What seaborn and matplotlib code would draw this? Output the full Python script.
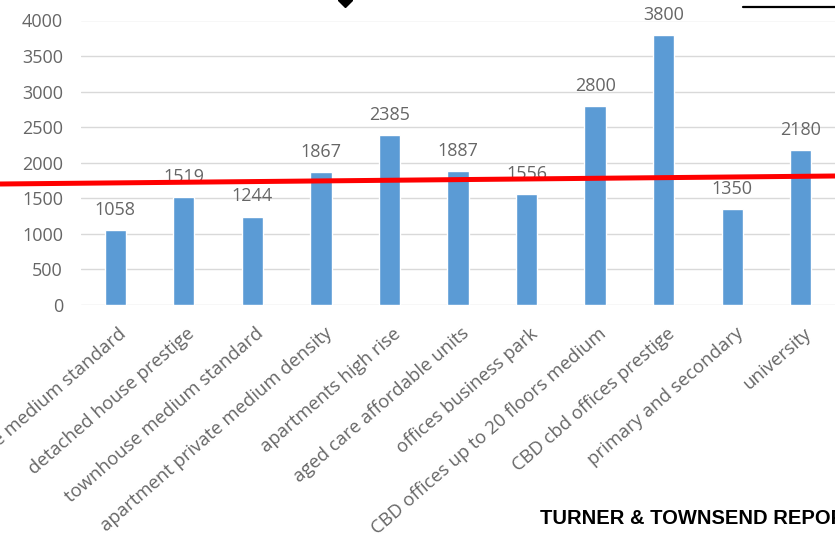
import matplotlib
matplotlib.use("Agg")
import matplotlib.pyplot as plt
from matplotlib.lines import Line2D
import matplotlib.transforms as mtransforms
import seaborn as sns
import pandas as pd

categories = [
    "detached house medium standard",
    "detached house prestige",
    "townhouse medium standard",
    "apartment private medium density",
    "apartments high rise",
    "aged care affordable units",
    "offices business park",
    "CBD offices up to 20 floors medium",
    "CBD cbd offices prestige",
    "primary and secondary",
    "university",
]
values = [1058, 1519, 1244, 1867, 2385, 1887, 1556, 2800, 3800, 1350, 2180]
yticks = [0, 500, 1000, 1500, 2000, 2500, 3000, 3500, 4000]
source_text = "TURNER & TOWNSEND REPORT"

W, H = 835, 540
sns.set_theme(style="white")
plt.rcParams["font.family"] = ["Open Sans", "DejaVu Sans"]

fig = plt.figure(figsize=(W / 100, H / 100), dpi=100)
ax = fig.add_axes([81 / W, 1 - 305 / H, 1 - 81 / W, 284.5 / H])

df = pd.DataFrame({"category": categories, "value": values})
sns.barplot(data=df, x="category", y="value", color="#5B9BD5", saturation=1,
            width=0.31, ax=ax)

ax.set_xlim(-0.5, len(categories) - 0.5)
ax.set_ylim(0, 4000)
ax.set_yticks(yticks)
ax.set_yticklabels([str(t) for t in yticks])
ax.set_xlabel("")
ax.set_ylabel("")
ax.yaxis.grid(True, color="#d9d9d9", lw=1)
ax.set_axisbelow(True)
sns.despine(ax=ax, left=True, bottom=True, top=True, right=True)

text_color = "#666666"
ax.tick_params(axis="y", length=0, pad=13, labelsize=13, labelcolor=text_color)
ax.tick_params(axis="x", length=0, pad=14, labelsize=13.3, labelcolor=text_color)
ax.set_xticks(range(len(categories)))
ax.set_xticklabels(categories, rotation=41, ha="right", rotation_mode="anchor")
offset = mtransforms.ScaledTranslation(2 / 72, 0, fig.dpi_scale_trans)
for lab in ax.get_xticklabels():
    lab.set_transform(lab.get_transform() + offset)

ax.bar_label(ax.containers[0], labels=[str(v) for v in values], padding=8,
             fontsize=13, color=text_color)

# overlay annotations on the image
fig.add_artist(Line2D([0, 1], [1 - 184 / H, 1 - 176 / H], transform=fig.transFigure,
                      color="#ff0000", lw=3.6, solid_capstyle="butt"))
fig.add_artist(Line2D([743 / W, 1], [1 - 7 / H, 1 - 7 / H], transform=fig.transFigure,
                      color="black", lw=1.6))
fig.add_artist(Line2D([345 / W], [1 - 0 / H], transform=fig.transFigure, marker="D",
                      markersize=7, color="black", lw=0))
fig.text(540 / W, 1 - 519 / H, source_text, ha="left", va="center",
         fontsize=14.5, fontweight="bold", family=["Liberation Sans", "DejaVu Sans"],
         color="black")

fig.savefig("out.png", dpi=100)
